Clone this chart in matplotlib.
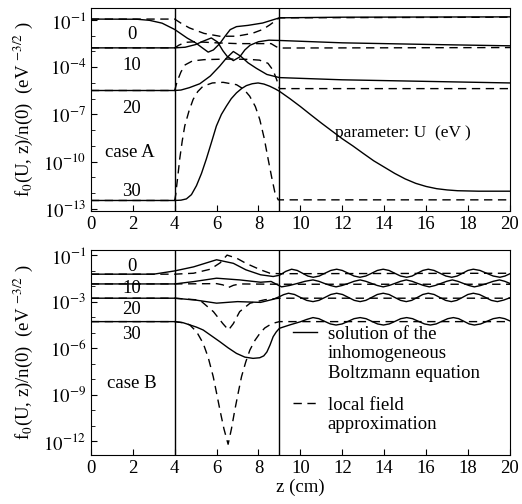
import numpy as np
import matplotlib
matplotlib.use('Agg')
import matplotlib.pyplot as plt
from matplotlib.lines import Line2D
from matplotlib.ticker import FixedLocator, FixedFormatter, NullFormatter

plt.rcParams['font.family'] = ['Liberation Serif', 'DejaVu Serif']
plt.rcParams['mathtext.fontset'] = 'stix'

# ---- case A: z (cm) and log10 f0 ----
a_u0_z = [0, 2.2, 2.8, 3.4, 4.0, 4.6, 5.0, 5.3, 5.6, 5.85, 6.15, 6.4, 6.65, 6.95, 7.5, 8.2, 9.0, 12, 20]
a_u0_v = [-0.94, -0.95, -1.02, -1.2, -1.6, -2.15, -2.45, -2.75, -3.04, -2.9, -2.5, -2.04, -1.61, -1.42, -1.34, -1.19, -0.86, -0.82, -0.80]
a_u10_z = [0, 4.0, 4.5, 5.0, 5.35, 5.75, 6.05, 6.3, 6.5, 6.8, 7.1, 7.35, 7.6, 8.0, 8.5, 9.0, 12, 16, 20]
a_u10_v = [-2.77, -2.77, -2.73, -2.56, -2.35, -2.14, -2.4, -2.95, -3.3, -3.58, -3.35, -2.9, -2.6, -2.38, -2.28, -2.3, -2.45, -2.55, -2.64]
a_u20_z = [0, 4.0, 4.3, 4.7, 5.2, 5.7, 6.15, 6.45, 6.8, 7.15, 7.5, 7.9, 8.4, 9.0, 12, 16, 20]
a_u20_v = [-5.48, -5.48, -5.45, -5.3, -5.05, -4.56, -3.93, -3.45, -3.0, -3.3, -3.72, -4.07, -4.46, -4.66, -4.8, -4.9, -5.0]
a_u30_z = [0, 4.0, 4.3, 4.56, 4.8, 5.04, 5.28, 5.51, 5.75, 5.99, 6.23, 6.47, 6.7, 6.95, 7.2, 7.42, 7.7, 7.98,
           8.26, 8.54, 8.8, 9.0, 9.5, 10.0, 10.5, 11.0, 11.5, 12.0, 12.5, 13.0, 13.5, 14.0, 14.5, 15.0, 15.5,
           16.0, 16.5, 17.0, 17.5, 18.5, 20]
a_u30_v = [-12.47, -12.47, -12.45, -12.37, -12.1, -11.53, -10.75, -9.84, -8.8, -7.74, -7.0, -6.47, -6.0, -5.63,
           -5.35, -5.17, -5.05, -5.0, -5.07, -5.21, -5.38, -5.53, -6.0, -6.5, -7.03, -7.55, -8.05, -8.55, -9.0,
           -9.48, -9.95, -10.35, -10.75, -11.1, -11.38, -11.58, -11.72, -11.8, -11.85, -11.88, -11.88]

# local field approximation, case A
a_u0_lf_z = [0, 4.0, 4.3, 4.7, 5.4, 6.15, 6.95, 7.7, 8.2, 8.55, 8.8, 9.0, 20]
a_u0_lf_v = [-0.94, -0.94, -1.2, -1.5, -1.85, -2.03, -2.03, -1.85, -1.6, -1.3, -1.05, -0.86, -0.82]
a_u10_lf_z = [0, 4.0, 4.2, 4.5, 5.0, 6.0, 7.0, 8.0, 8.6, 8.85, 9.0, 20]
a_u10_lf_v = [-2.77, -2.77, -2.6, -2.42, -2.38, -2.45, -2.5, -2.5, -2.5, -2.7, -2.78, -2.75]
a_u20_lf_z = [0, 4.0, 4.12, 4.3, 4.5, 4.85, 5.4, 6.5, 7.5, 8.05, 8.45, 8.7, 8.87, 9.0, 20]
a_u20_lf_v = [-5.48, -5.48, -4.9, -4.3, -3.85, -3.6, -3.52, -3.48, -3.5, -3.55, -3.75, -4.2, -4.8, -5.36, -5.36]
a_u30_lf_z = [0, 4.0, 4.05, 4.1, 4.17, 4.24, 4.36, 4.48, 4.68, 4.88, 5.1, 5.35, 5.8, 6.31, 6.95, 7.3, 7.58,
              7.85, 8.06, 8.27, 8.46, 8.63, 8.78, 8.94, 9.0, 20]
a_u30_lf_v = [-12.47, -12.47, -12.1, -11.5, -10.7, -9.84, -8.7, -7.74, -6.8, -6.05, -5.55, -5.21, -5.0, -4.96,
              -5.11, -5.4, -5.84, -6.5, -7.32, -8.5, -9.84, -11.0, -11.95, -12.43, -12.43, -12.43]

# ---- case B ----
b_u0_z = [0, 3.0, 4.0, 4.9, 6.0, 6.8, 7.4, 8.1, 8.7, 9.0, 9.3, 9.58, 9.85, 10.1, 10.35, 10.61, 10.9, 11.17,
          11.45, 11.73, 12.0, 12.28, 12.56, 12.84, 13.12, 13.4, 13.67, 13.95, 14.23, 14.5, 14.78, 15.07, 15.33,
          15.58, 15.84, 16.1, 16.38, 16.66, 16.94, 17.22, 17.48, 17.74, 17.99, 18.25, 18.57, 18.88, 19.2,
          19.52, 19.76, 20]
b_u0_v = [-1.23, -1.23, -1.02, -0.76, -0.3, -0.53, -0.95, -1.27, -1.38, -1.3, -1.05, -0.91, -0.99, -1.17,
          -1.35, -1.43, -1.35, -1.17, -0.99, -0.91, -0.99, -1.17, -1.35, -1.43, -1.35, -1.17, -0.99, -0.91,
          -0.99, -1.17, -1.35, -1.43, -1.35, -1.17, -0.99, -0.91, -0.99, -1.17, -1.35, -1.43, -1.35, -1.17,
          -0.99, -0.91, -0.99, -1.17, -1.35, -1.43, -1.35, -1.2]
b_u10_z = [0, 4.0, 4.9, 6.0, 7.1, 8.1, 8.6, 9.1, 9.48, 9.85, 10.22, 10.6, 10.88, 11.15, 11.43, 11.7, 11.99,
           12.28, 12.56, 12.85, 13.12, 13.4, 13.67, 13.95, 14.23, 14.5, 14.78, 15.05, 15.33, 15.6, 15.88,
           16.15, 16.43, 16.7, 16.98, 17.25, 17.51, 17.78, 18.04, 18.3, 18.6, 18.9, 19.2, 19.5, 19.75, 20]
b_u10_v = [-1.86, -1.86, -1.71, -1.49, -1.6, -1.75, -1.7, -2.05, -1.96, -1.83, -1.69, -1.6, -1.69, -1.83,
           -1.96, -2.05, -1.96, -1.83, -1.69, -1.6, -1.69, -1.83, -1.96, -2.05, -1.96, -1.83, -1.69, -1.6,
           -1.69, -1.83, -1.96, -2.05, -1.96, -1.83, -1.69, -1.6, -1.69, -1.83, -1.96, -2.05, -1.96, -1.83,
           -1.69, -1.6, -1.69, -1.83]
b_u20_z = [0, 4.0, 5.0, 6.0, 7.0, 8.1, 8.7, 9.0, 9.2, 9.43, 9.72, 10.0, 10.3, 10.6, 10.88, 11.17, 11.45,
           11.73, 12.01, 12.29, 12.57, 12.85, 13.12, 13.4, 13.67, 13.95, 14.23, 14.5, 14.78, 15.05, 15.31,
           15.58, 15.84, 16.1, 16.38, 16.65, 16.93, 17.2, 17.46, 17.73, 17.99, 18.25, 18.54, 18.83, 19.11,
           19.4, 19.7, 20]
b_u20_v = [-2.78, -2.78, -2.9, -3.1, -3.0, -3.05, -2.85, -2.68, -2.55, -2.46, -2.54, -2.73, -2.92, -3.0,
           -2.92, -2.73, -2.54, -2.46, -2.54, -2.73, -2.92, -3.0, -2.92, -2.73, -2.54, -2.46, -2.54, -2.73,
           -2.92, -3.0, -2.92, -2.73, -2.54, -2.46, -2.54, -2.73, -2.92, -3.0, -2.92, -2.73, -2.54, -2.46,
           -2.54, -2.73, -2.92, -3.0, -2.9, -2.75]
b_u30_z = [0, 4.0, 4.4, 4.72, 5.05, 5.36, 5.75, 6.15, 6.55, 6.95, 7.35, 7.74, 8.06, 8.25, 8.4, 8.55, 8.7,
           8.85, 9.0, 9.5, 10.0, 10.3, 10.6, 10.88, 11.15, 11.43, 11.7, 11.99, 12.28, 12.56, 12.85, 13.13,
           13.4, 13.68, 13.96, 14.24, 14.52, 14.79, 15.07, 15.35, 15.63, 15.92, 16.2, 16.48, 16.75, 17.03,
           17.3, 17.55, 17.8, 18.05, 18.3, 18.6, 18.9, 19.2, 19.5, 19.75, 20]
b_u30_v = [-4.29, -4.29, -4.36, -4.5, -4.65, -4.83, -5.2, -5.58, -5.98, -6.34, -6.58, -6.66, -6.62, -6.5,
           -6.25, -5.8, -5.26, -4.95, -4.72, -4.5, -4.3, -4.15, -4.03, -4.1, -4.27, -4.44, -4.51, -4.44,
           -4.27, -4.1, -4.03, -4.1, -4.27, -4.44, -4.51, -4.44, -4.27, -4.1, -4.03, -4.1, -4.27, -4.44,
           -4.51, -4.44, -4.27, -4.1, -4.03, -4.1, -4.27, -4.44, -4.51, -4.44, -4.27, -4.1, -4.03, -4.1, -4.25]

b_u0_lf_z = [0, 4.0, 4.9, 5.7, 6.17, 6.5, 6.96, 7.4, 8.1, 8.55, 9.0, 20]
b_u0_lf_v = [-1.23, -1.23, -1.17, -0.91, -0.5, 0.0, -0.2, -0.53, -0.95, -1.17, -1.2, -1.17]
b_u10_lf_z = [0, 4.0, 6.0, 6.3, 6.55, 6.8, 7.1, 9.0, 20]
b_u10_lf_v = [-1.86, -1.86, -1.84, -1.92, -2.1, -1.95, -1.86, -1.88, -1.88]
b_u20_lf_z = [0, 4.0, 5.2, 5.85, 6.3, 6.57, 6.8, 7.1, 7.6, 8.3, 9.0, 20]
b_u20_lf_v = [-2.78, -2.78, -2.9, -3.65, -4.42, -4.83, -4.42, -3.65, -3.1, -2.88, -2.78, -2.78]
b_u30_lf_z = [0, 4.0, 4.4, 4.72, 5.05, 5.36, 5.6, 5.84, 6.0, 6.16, 6.35, 6.55, 6.71, 6.87, 7.03, 7.19,
              7.39, 7.59, 7.83, 8.07, 8.3, 8.54, 8.8, 9.0, 20]
b_u30_lf_v = [-4.29, -4.29, -4.36, -4.5, -4.95, -5.69, -6.6, -7.84, -8.9, -9.99, -11.2, -12.2, -11.2, -9.99,
              -8.9, -7.84, -6.9, -6.12, -5.5, -5.04, -4.7, -4.5, -4.36, -4.29, -4.29]

energies = ['0', '10', '20', '30']
case_a_solid = [(a_u0_z, a_u0_v), (a_u10_z, a_u10_v), (a_u20_z, a_u20_v), (a_u30_z, a_u30_v)]
case_a_dash = [(a_u0_lf_z, a_u0_lf_v), (a_u10_lf_z, a_u10_lf_v), (a_u20_lf_z, a_u20_lf_v), (a_u30_lf_z, a_u30_lf_v)]
case_b_solid = [(b_u0_z, b_u0_v), (b_u10_z, b_u10_v), (b_u20_z, b_u20_v), (b_u30_z, b_u30_v)]
case_b_dash = [(b_u0_lf_z, b_u0_lf_v), (b_u10_lf_z, b_u10_lf_v), (b_u20_lf_z, b_u20_lf_v), (b_u30_lf_z, b_u30_lf_v)]

FS = 13.5
DASH = (0, (6, 4))

fig = plt.figure(figsize=(5.22, 5.04), dpi=100)
ax1 = fig.add_axes([0.174, 0.581, 0.803, 0.403])
ax2 = fig.add_axes([0.174, 0.097, 0.803, 0.407])

ylabel = r'f$_0$(U, z)/n(0)  (eV $^{-3/2}$ )'


def style(ax, lo, hi, major, labels):
    ax.set_yscale('log')
    ax.set_xlim(0, 20)
    ax.set_ylim(10.0 ** lo, 10.0 ** hi)
    ax.set_xticks(range(0, 21, 2))
    ax.yaxis.set_major_locator(FixedLocator(major))
    ax.yaxis.set_major_formatter(FixedFormatter(labels))
    ax.yaxis.set_minor_locator(FixedLocator([10.0 ** k for k in range(-14, 2)]))
    ax.yaxis.set_minor_formatter(NullFormatter())
    ax.tick_params(which='both', direction='in', labelsize=FS, top=False, right=False)
    ax.tick_params(which='major', length=4)
    ax.tick_params(which='minor', length=3)
    ax.axvline(4, color='k', lw=1)
    ax.axvline(9, color='k', lw=1)
    ax.set_ylabel(ylabel, fontsize=FS, labelpad=6)


for (z, v) in case_a_solid:
    ax1.plot(z, np.power(10.0, v), color='k', lw=1)
for (z, v) in case_a_dash:
    ax1.plot(z, np.power(10.0, v), color='k', lw=1, linestyle=DASH)
style(ax1, -13.15, -0.24, [1e-1, 1e-4, 1e-7, 1e-10, 1e-13],
      ['$10^{-1}$', '$10^{-4}$', '$10^{-7}$', '$10^{-10}$', '$10^{-13}$'])

for (z, v) in case_b_solid:
    ax2.plot(z, np.power(10.0, v), color='k', lw=1)
for (z, v) in case_b_dash:
    ax2.plot(z, np.power(10.0, v), color='k', lw=1, linestyle=DASH)
style(ax2, -12.9, 0.33, [1e0, 1e-3, 1e-6, 1e-9, 1e-12],
      ['$10^{-1}$', '$10^{-3}$', '$10^{-6}$', '$10^{-9}$', '$10^{-12}$'])
ax2.set_xlabel('z (cm)', fontsize=FS, labelpad=1)

# curve labels
for lab, lv in zip(energies, [-1.95, -3.86, -6.6, -11.9]):
    ax1.text(1.94, 10.0 ** lv, lab, fontsize=FS, ha='center', va='center')
for lab, lv in zip(energies, [-0.74, -2.14, -3.54, -5.15]):
    ax2.text(1.94, 10.0 ** lv, lab, fontsize=FS, ha='center', va='center')
ax1.text(1.86, 10.0 ** -9.45, 'case A', fontsize=FS, ha='center', va='center')
ax2.text(1.94, 10.0 ** -8.27, 'case B', fontsize=FS, ha='center', va='center')
ax1.text(14.9, 10.0 ** -8.2, 'parameter: U  (eV )', fontsize=12.5, ha='center', va='center')

blank = Line2D([], [], color='none')
leg_kw = dict(loc='upper left', frameon=False, fontsize=FS, handlelength=1.3,
              handletextpad=0.55, labelspacing=0.12, borderpad=0, borderaxespad=0)
leg1 = ax2.legend([Line2D([], [], color='k', lw=1), blank, blank],
                  ['solution of the', 'inhomogeneous', 'Boltzmann equation'],
                  bbox_to_anchor=(0.482, 0.63), **leg_kw)
ax2.add_artist(leg1)
ax2.legend([Line2D([], [], color='k', lw=1, linestyle=DASH), blank],
           ['local field', 'approximation'],
           bbox_to_anchor=(0.482, 0.285), **leg_kw)

fig.savefig('out.png', dpi=100)
